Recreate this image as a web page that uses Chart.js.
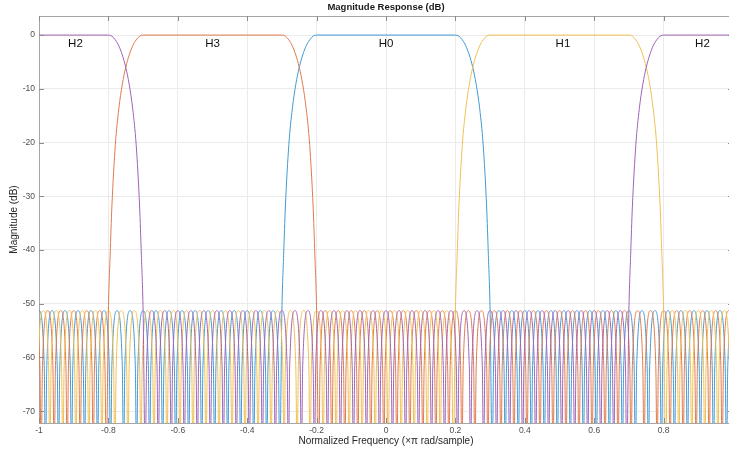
<!DOCTYPE html>
<html>
<head>
<meta charset="utf-8">
<title>Magnitude Response (dB)</title>
<script src="https://cdn.jsdelivr.net/npm/chart.js@4.4.1/dist/chart.umd.min.js"></script>
<style>
  html, body { margin: 0; padding: 0; overflow: hidden; background: #fff; }
  #wrap { width: 729px; height: 451px; overflow: hidden; }
  canvas { display: block; }
</style>
</head>
<body>
<div id="wrap"><canvas id="chart" width="733" height="451"></canvas></div>
<script>
const xTicks = [-1, -0.8, -0.6, -0.4, -0.2, 0, 0.2, 0.4, 0.6, 0.8];
const yTicks = [0, -10, -20, -30, -40, -50, -60, -70];
const bandNames = ['H2', 'H3', 'H0', 'H1', 'H2'];
const bandLabelX = [-0.895, -0.5, 0, 0.51, 0.912];
const bandLabelY = -1.6;

// [normalized frequency, magnitude dB]
const h0Response = [
  [-1.01875, -80], [-1.015, -61.5], [-1.0, -51.3], [-0.985, -61.5],
  [-0.98125, -80], [-0.9775, -61.5], [-0.9625, -51.3], [-0.9475, -61.5],
  [-0.94375, -80], [-0.94, -61.5], [-0.925, -51.3], [-0.91, -61.5],
  [-0.90625, -80], [-0.9025, -61.5], [-0.8875, -51.3], [-0.8725, -61.5],
  [-0.86875, -80], [-0.865, -61.5], [-0.85, -51.3], [-0.835, -61.5],
  [-0.83125, -80], [-0.8275, -61.5], [-0.8125, -51.3], [-0.7975, -61.5],
  [-0.79375, -80], [-0.79, -61.5], [-0.775, -51.3], [-0.76, -61.5],
  [-0.75625, -80], [-0.7525, -61.5], [-0.7375, -51.3], [-0.7225, -61.5],
  [-0.71875, -80], [-0.715, -61.5], [-0.7, -51.3], [-0.685, -61.5],
  [-0.68125, -80], [-0.6775, -61.5], [-0.6625, -51.3], [-0.6475, -61.5],
  [-0.64375, -80], [-0.64, -61.5], [-0.625, -51.3], [-0.61, -61.5],
  [-0.60625, -80], [-0.6025, -61.5], [-0.5875, -51.3], [-0.5725, -61.5],
  [-0.56875, -80], [-0.565, -61.5], [-0.55, -51.3], [-0.535, -61.5],
  [-0.53125, -80], [-0.5275, -61.5], [-0.5125, -51.3], [-0.4975, -61.5],
  [-0.49375, -80], [-0.49, -61.5], [-0.475, -51.3], [-0.46, -61.5],
  [-0.45625, -80], [-0.4525, -61.5], [-0.4375, -51.3], [-0.4225, -61.5],
  [-0.41875, -80], [-0.415, -61.5], [-0.4, -51.3], [-0.385, -61.5],
  [-0.38125, -80], [-0.3775, -61.5], [-0.3625, -51.3], [-0.3475, -61.5],
  [-0.34375, -80], [-0.34, -61.5], [-0.325, -51.3], [-0.31, -61.5],
  [-0.30625, -80],
  [-0.300, -51.3], [-0.295, -41], [-0.290, -32], [-0.280, -20.4], [-0.270, -13.7], [-0.260, -9.2],
  [-0.250, -6.0], [-0.240, -3.7], [-0.230, -2.0], [-0.220, -0.9], [-0.210, -0.2], [-0.200, 0],
  [0.200, 0], [0.210, -0.2], [0.220, -0.9], [0.230, -2.0], [0.240, -3.7], [0.250, -6.0],
  [0.260, -9.2], [0.270, -13.7], [0.280, -20.4], [0.290, -32], [0.295, -41], [0.300, -51.3],
  [0.30625, -80], [0.31, -61.5], [0.325, -51.3], [0.34, -61.5],
  [0.34375, -80], [0.3475, -61.5], [0.3625, -51.3], [0.3775, -61.5],
  [0.38125, -80], [0.385, -61.5], [0.4, -51.3], [0.415, -61.5],
  [0.41875, -80], [0.4225, -61.5], [0.4375, -51.3], [0.4525, -61.5],
  [0.45625, -80], [0.46, -61.5], [0.475, -51.3], [0.49, -61.5],
  [0.49375, -80], [0.4975, -61.5], [0.5125, -51.3], [0.5275, -61.5],
  [0.53125, -80], [0.535, -61.5], [0.55, -51.3], [0.565, -61.5],
  [0.56875, -80], [0.5725, -61.5], [0.5875, -51.3], [0.6025, -61.5],
  [0.60625, -80], [0.61, -61.5], [0.625, -51.3], [0.64, -61.5],
  [0.64375, -80], [0.6475, -61.5], [0.6625, -51.3], [0.6775, -61.5],
  [0.68125, -80], [0.685, -61.5], [0.7, -51.3], [0.715, -61.5],
  [0.71875, -80], [0.7225, -61.5], [0.7375, -51.3], [0.7525, -61.5],
  [0.75625, -80], [0.76, -61.5], [0.775, -51.3], [0.79, -61.5],
  [0.79375, -80], [0.7975, -61.5], [0.8125, -51.3], [0.8275, -61.5],
  [0.83125, -80], [0.835, -61.5], [0.85, -51.3], [0.865, -61.5],
  [0.86875, -80], [0.8725, -61.5], [0.8875, -51.3], [0.9025, -61.5],
  [0.90625, -80], [0.91, -61.5], [0.925, -51.3], [0.94, -61.5],
  [0.94375, -80], [0.9475, -61.5], [0.9625, -51.3], [0.9775, -61.5],
  [0.98125, -80], [0.985, -61.5], [1.0, -51.3], [1.015, -61.5], [1.01875, -80]
];

const h1Response = [
  [-1.00625, -80], [-1.0025, -61.5], [-0.9875, -51.3], [-0.9725, -61.5],
  [-0.96875, -80], [-0.965, -61.5], [-0.95, -51.3], [-0.935, -61.5],
  [-0.93125, -80], [-0.9275, -61.5], [-0.9125, -51.3], [-0.8975, -61.5],
  [-0.89375, -80], [-0.89, -61.5], [-0.875, -51.3], [-0.86, -61.5],
  [-0.85625, -80], [-0.8525, -61.5], [-0.8375, -51.3], [-0.8225, -61.5],
  [-0.81875, -80], [-0.815, -61.5], [-0.8, -51.3], [-0.785, -61.5],
  [-0.78125, -80], [-0.7775, -61.5], [-0.7625, -51.3], [-0.7475, -61.5],
  [-0.74375, -80], [-0.74, -61.5], [-0.725, -51.3], [-0.71, -61.5],
  [-0.70625, -80], [-0.7025, -61.5], [-0.6875, -51.3], [-0.6725, -61.5],
  [-0.66875, -80], [-0.665, -61.5], [-0.65, -51.3], [-0.635, -61.5],
  [-0.63125, -80], [-0.6275, -61.5], [-0.6125, -51.3], [-0.5975, -61.5],
  [-0.59375, -80], [-0.59, -61.5], [-0.575, -51.3], [-0.56, -61.5],
  [-0.55625, -80], [-0.5525, -61.5], [-0.5375, -51.3], [-0.5225, -61.5],
  [-0.51875, -80], [-0.515, -61.5], [-0.5, -51.3], [-0.485, -61.5],
  [-0.48125, -80], [-0.4775, -61.5], [-0.4625, -51.3], [-0.4475, -61.5],
  [-0.44375, -80], [-0.44, -61.5], [-0.425, -51.3], [-0.41, -61.5],
  [-0.40625, -80], [-0.4025, -61.5], [-0.3875, -51.3], [-0.3725, -61.5],
  [-0.36875, -80], [-0.365, -61.5], [-0.35, -51.3], [-0.335, -61.5],
  [-0.33125, -80], [-0.3275, -61.5], [-0.3125, -51.3], [-0.2975, -61.5],
  [-0.29375, -80], [-0.29, -61.5], [-0.275, -51.3], [-0.26, -61.5],
  [-0.25625, -80], [-0.2525, -61.5], [-0.2375, -51.3], [-0.2225, -61.5],
  [-0.21875, -80], [-0.215, -61.5], [-0.2, -51.3], [-0.185, -61.5],
  [-0.18125, -80], [-0.1775, -61.5], [-0.1625, -51.3], [-0.1475, -61.5],
  [-0.14375, -80], [-0.14, -61.5], [-0.125, -51.3], [-0.11, -61.5],
  [-0.10625, -80], [-0.1025, -61.5], [-0.0875, -51.3], [-0.0725, -61.5],
  [-0.06875, -80], [-0.065, -61.5], [-0.05, -51.3], [-0.035, -61.5],
  [-0.03125, -80], [-0.0275, -61.5], [-0.0125, -51.3], [0.0025, -61.5],
  [0.00625, -80], [0.01, -61.5], [0.025, -51.3], [0.04, -61.5],
  [0.04375, -80], [0.0475, -61.5], [0.0625, -51.3], [0.0775, -61.5],
  [0.08125, -80], [0.085, -61.5], [0.1, -51.3], [0.115, -61.5],
  [0.11875, -80], [0.1225, -61.5], [0.1375, -51.3], [0.1525, -61.5],
  [0.15625, -80], [0.16, -61.5], [0.175, -51.3], [0.19, -61.5],
  [0.19375, -80],
  [0.200, -51.3], [0.205, -41], [0.210, -32], [0.220, -20.4], [0.230, -13.7], [0.240, -9.2],
  [0.250, -6.0], [0.260, -3.7], [0.270, -2.0], [0.280, -0.9], [0.290, -0.2], [0.300, 0],
  [0.700, 0], [0.710, -0.2], [0.720, -0.9], [0.730, -2.0], [0.740, -3.7], [0.750, -6.0],
  [0.760, -9.2], [0.770, -13.7], [0.780, -20.4], [0.790, -32], [0.795, -41], [0.800, -51.3],
  [0.80625, -80], [0.81, -61.5], [0.825, -51.3], [0.84, -61.5],
  [0.84375, -80], [0.8475, -61.5], [0.8625, -51.3], [0.8775, -61.5],
  [0.88125, -80], [0.885, -61.5], [0.9, -51.3], [0.915, -61.5],
  [0.91875, -80], [0.9225, -61.5], [0.9375, -51.3], [0.9525, -61.5],
  [0.95625, -80], [0.96, -61.5], [0.975, -51.3], [0.99, -61.5],
  [0.99375, -80], [0.9975, -61.5], [1.0125, -51.3], [1.0275, -61.5], [1.03125, -80]
];

const h2Response = [
  [-1.000, 0], [-0.800, 0], [-0.790, -0.2], [-0.780, -0.9], [-0.770, -2.0], [-0.760, -3.7],
  [-0.750, -6.0], [-0.740, -9.2], [-0.730, -13.7], [-0.720, -20.4], [-0.710, -32], [-0.705, -41],
  [-0.700, -51.3],
  [-0.69375, -80], [-0.69, -61.5], [-0.675, -51.3], [-0.66, -61.5],
  [-0.65625, -80], [-0.6525, -61.5], [-0.6375, -51.3], [-0.6225, -61.5],
  [-0.61875, -80], [-0.615, -61.5], [-0.6, -51.3], [-0.585, -61.5],
  [-0.58125, -80], [-0.5775, -61.5], [-0.5625, -51.3], [-0.5475, -61.5],
  [-0.54375, -80], [-0.54, -61.5], [-0.525, -51.3], [-0.51, -61.5],
  [-0.50625, -80], [-0.5025, -61.5], [-0.4875, -51.3], [-0.4725, -61.5],
  [-0.46875, -80], [-0.465, -61.5], [-0.45, -51.3], [-0.435, -61.5],
  [-0.43125, -80], [-0.4275, -61.5], [-0.4125, -51.3], [-0.3975, -61.5],
  [-0.39375, -80], [-0.39, -61.5], [-0.375, -51.3], [-0.36, -61.5],
  [-0.35625, -80], [-0.3525, -61.5], [-0.3375, -51.3], [-0.3225, -61.5],
  [-0.31875, -80], [-0.315, -61.5], [-0.3, -51.3], [-0.285, -61.5],
  [-0.28125, -80], [-0.2775, -61.5], [-0.2625, -51.3], [-0.2475, -61.5],
  [-0.24375, -80], [-0.24, -61.5], [-0.225, -51.3], [-0.21, -61.5],
  [-0.20625, -80], [-0.2025, -61.5], [-0.1875, -51.3], [-0.1725, -61.5],
  [-0.16875, -80], [-0.165, -61.5], [-0.15, -51.3], [-0.135, -61.5],
  [-0.13125, -80], [-0.1275, -61.5], [-0.1125, -51.3], [-0.0975, -61.5],
  [-0.09375, -80], [-0.09, -61.5], [-0.075, -51.3], [-0.06, -61.5],
  [-0.05625, -80], [-0.0525, -61.5], [-0.0375, -51.3], [-0.0225, -61.5],
  [-0.01875, -80], [-0.015, -61.5], [0.0, -51.3], [0.015, -61.5],
  [0.01875, -80], [0.0225, -61.5], [0.0375, -51.3], [0.0525, -61.5],
  [0.05625, -80], [0.06, -61.5], [0.075, -51.3], [0.09, -61.5],
  [0.09375, -80], [0.0975, -61.5], [0.1125, -51.3], [0.1275, -61.5],
  [0.13125, -80], [0.135, -61.5], [0.15, -51.3], [0.165, -61.5],
  [0.16875, -80], [0.1725, -61.5], [0.1875, -51.3], [0.2025, -61.5],
  [0.20625, -80], [0.21, -61.5], [0.225, -51.3], [0.24, -61.5],
  [0.24375, -80], [0.2475, -61.5], [0.2625, -51.3], [0.2775, -61.5],
  [0.28125, -80], [0.285, -61.5], [0.3, -51.3], [0.315, -61.5],
  [0.31875, -80], [0.3225, -61.5], [0.3375, -51.3], [0.3525, -61.5],
  [0.35625, -80], [0.36, -61.5], [0.375, -51.3], [0.39, -61.5],
  [0.39375, -80], [0.3975, -61.5], [0.4125, -51.3], [0.4275, -61.5],
  [0.43125, -80], [0.435, -61.5], [0.45, -51.3], [0.465, -61.5],
  [0.46875, -80], [0.4725, -61.5], [0.4875, -51.3], [0.5025, -61.5],
  [0.50625, -80], [0.51, -61.5], [0.525, -51.3], [0.54, -61.5],
  [0.54375, -80], [0.5475, -61.5], [0.5625, -51.3], [0.5775, -61.5],
  [0.58125, -80], [0.585, -61.5], [0.6, -51.3], [0.615, -61.5],
  [0.61875, -80], [0.6225, -61.5], [0.6375, -51.3], [0.6525, -61.5],
  [0.65625, -80], [0.66, -61.5], [0.675, -51.3], [0.69, -61.5],
  [0.69375, -80],
  [0.700, -51.3], [0.705, -41], [0.710, -32], [0.720, -20.4], [0.730, -13.7], [0.740, -9.2],
  [0.750, -6.0], [0.760, -3.7], [0.770, -2.0], [0.780, -0.9], [0.790, -0.2], [0.800, 0],
  [1.000, 0]
];

const h3Response = [
  [-1.03125, -80], [-1.0275, -61.5], [-1.0125, -51.3], [-0.9975, -61.5],
  [-0.99375, -80], [-0.99, -61.5], [-0.975, -51.3], [-0.96, -61.5],
  [-0.95625, -80], [-0.9525, -61.5], [-0.9375, -51.3], [-0.9225, -61.5],
  [-0.91875, -80], [-0.915, -61.5], [-0.9, -51.3], [-0.885, -61.5],
  [-0.88125, -80], [-0.8775, -61.5], [-0.8625, -51.3], [-0.8475, -61.5],
  [-0.84375, -80], [-0.84, -61.5], [-0.825, -51.3], [-0.81, -61.5],
  [-0.80625, -80],
  [-0.800, -51.3], [-0.795, -41], [-0.790, -32], [-0.780, -20.4], [-0.770, -13.7], [-0.760, -9.2],
  [-0.750, -6.0], [-0.740, -3.7], [-0.730, -2.0], [-0.720, -0.9], [-0.710, -0.2], [-0.700, 0],
  [-0.300, 0], [-0.290, -0.2], [-0.280, -0.9], [-0.270, -2.0], [-0.260, -3.7], [-0.250, -6.0],
  [-0.240, -9.2], [-0.230, -13.7], [-0.220, -20.4], [-0.210, -32], [-0.205, -41], [-0.200, -51.3],
  [-0.19375, -80], [-0.19, -61.5], [-0.175, -51.3], [-0.16, -61.5],
  [-0.15625, -80], [-0.1525, -61.5], [-0.1375, -51.3], [-0.1225, -61.5],
  [-0.11875, -80], [-0.115, -61.5], [-0.1, -51.3], [-0.085, -61.5],
  [-0.08125, -80], [-0.0775, -61.5], [-0.0625, -51.3], [-0.0475, -61.5],
  [-0.04375, -80], [-0.04, -61.5], [-0.025, -51.3], [-0.01, -61.5],
  [-0.00625, -80], [-0.0025, -61.5], [0.0125, -51.3], [0.0275, -61.5],
  [0.03125, -80], [0.035, -61.5], [0.05, -51.3], [0.065, -61.5],
  [0.06875, -80], [0.0725, -61.5], [0.0875, -51.3], [0.1025, -61.5],
  [0.10625, -80], [0.11, -61.5], [0.125, -51.3], [0.14, -61.5],
  [0.14375, -80], [0.1475, -61.5], [0.1625, -51.3], [0.1775, -61.5],
  [0.18125, -80], [0.185, -61.5], [0.2, -51.3], [0.215, -61.5],
  [0.21875, -80], [0.2225, -61.5], [0.2375, -51.3], [0.2525, -61.5],
  [0.25625, -80], [0.26, -61.5], [0.275, -51.3], [0.29, -61.5],
  [0.29375, -80], [0.2975, -61.5], [0.3125, -51.3], [0.3275, -61.5],
  [0.33125, -80], [0.335, -61.5], [0.35, -51.3], [0.365, -61.5],
  [0.36875, -80], [0.3725, -61.5], [0.3875, -51.3], [0.4025, -61.5],
  [0.40625, -80], [0.41, -61.5], [0.425, -51.3], [0.44, -61.5],
  [0.44375, -80], [0.4475, -61.5], [0.4625, -51.3], [0.4775, -61.5],
  [0.48125, -80], [0.485, -61.5], [0.5, -51.3], [0.515, -61.5],
  [0.51875, -80], [0.5225, -61.5], [0.5375, -51.3], [0.5525, -61.5],
  [0.55625, -80], [0.56, -61.5], [0.575, -51.3], [0.59, -61.5],
  [0.59375, -80], [0.5975, -61.5], [0.6125, -51.3], [0.6275, -61.5],
  [0.63125, -80], [0.635, -61.5], [0.65, -51.3], [0.665, -61.5],
  [0.66875, -80], [0.6725, -61.5], [0.6875, -51.3], [0.7025, -61.5],
  [0.70625, -80], [0.71, -61.5], [0.725, -51.3], [0.74, -61.5],
  [0.74375, -80], [0.7475, -61.5], [0.7625, -51.3], [0.7775, -61.5],
  [0.78125, -80], [0.785, -61.5], [0.8, -51.3], [0.815, -61.5],
  [0.81875, -80], [0.8225, -61.5], [0.8375, -51.3], [0.8525, -61.5],
  [0.85625, -80], [0.86, -61.5], [0.875, -51.3], [0.89, -61.5],
  [0.89375, -80], [0.8975, -61.5], [0.9125, -51.3], [0.9275, -61.5],
  [0.93125, -80], [0.935, -61.5], [0.95, -51.3], [0.965, -61.5],
  [0.96875, -80], [0.9725, -61.5], [0.9875, -51.3], [1.0025, -61.5],
  [1.00625, -80]
];

const font = '"Liberation Sans", Arial, Helvetica, sans-serif';
const toPoints = pairs => pairs.map(([x, y]) => ({ x, y }));

function filterSet(label, pairs, color, order) {
  return {
    label,
    data: toPoints(pairs),
    borderColor: color,
    borderWidth: 1,
    pointRadius: 0,
    fill: false,
    cubicInterpolationMode: 'monotone',
    order
  };
}

// box, inward ticks, band names and the title, drawn like MATLAB does
const decorations = {
  id: 'decorations',
  afterDatasetsDraw(chart) {
    const { ctx, chartArea: a, scales: { x, y } } = chart;
    ctx.save();
    ctx.strokeStyle = '#a6a6a6';
    ctx.lineWidth = 1;
    ctx.beginPath();
    ctx.moveTo(a.left, a.top + 0.5);
    ctx.lineTo(a.right, a.top + 0.5);
    ctx.moveTo(a.right - 0.5, a.top);
    ctx.lineTo(a.right - 0.5, a.bottom);
    ctx.stroke();

    ctx.strokeStyle = '#8c8c8c';
    ctx.beginPath();
    xTicks.forEach(v => {
      const px = Math.round(x.getPixelForValue(v)) + 0.5;
      ctx.moveTo(px, a.top); ctx.lineTo(px, a.top + 5);
      ctx.moveTo(px, a.bottom); ctx.lineTo(px, a.bottom - 5);
    });
    yTicks.forEach(v => {
      const py = Math.round(y.getPixelForValue(v)) + 0.5;
      ctx.moveTo(a.left, py); ctx.lineTo(a.left + 5, py);
      ctx.moveTo(a.right, py); ctx.lineTo(a.right - 5, py);
    });
    ctx.stroke();

    ctx.fillStyle = '#111';
    ctx.font = '11.5px ' + font;
    ctx.textAlign = 'center';
    ctx.textBaseline = 'middle';
    bandNames.forEach((name, i) => {
      ctx.fillText(name, x.getPixelForValue(bandLabelX[i]), y.getPixelForValue(bandLabelY));
    });

    ctx.fillStyle = '#1a1a1a';
    ctx.font = 'bold 9.5px ' + font;
    ctx.fillText('Magnitude Response (dB)', (a.left + a.right) / 2, 7.5);
    ctx.restore();
  }
};

new Chart(document.getElementById('chart'), {
  type: 'line',
  data: {
    datasets: [
      filterSet('H0', h0Response, '#4299d5', 4),
      filterSet('H3', h3Response, '#e07a4c', 3),
      filterSet('H1', h1Response, '#f0c052', 2),
      filterSet('H2', h2Response, '#9e64b5', 1)
    ]
  },
  options: {
    responsive: false,
    animation: false,
    devicePixelRatio: 1,
    layout: { padding: { top: 16, left: 0, right: 0, bottom: 0 } },
    plugins: {
      legend: { display: false },
      tooltip: { enabled: false },
      title: { display: false }
    },
    scales: {
      x: {
        type: 'linear',
        min: -1,
        max: 1,
        afterFit: s => { s.height = 28; },
        afterBuildTicks: s => { s.ticks = xTicks.map(v => ({ value: v })); },
        grid: { color: '#ebebeb', drawTicks: false },
        border: { color: '#a6a6a6' },
        ticks: {
          autoSkip: false,
          maxRotation: 0,
          padding: 3,
          color: '#4d4d4d',
          font: { family: font, size: 8.5 },
          callback: v => String(v)
        },
        title: {
          display: true,
          text: 'Normalized Frequency (×π rad/sample)',
          color: '#262626',
          font: { family: font, size: 10 },
          padding: { top: 0, bottom: 4 }
        }
      },
      y: {
        min: -72.2,
        max: 3.55,
        afterFit: s => { s.width = 39; },
        afterBuildTicks: s => { s.ticks = yTicks.map(v => ({ value: v })); },
        grid: { color: '#ebebeb', drawTicks: false },
        border: { color: '#a6a6a6' },
        ticks: {
          autoSkip: false,
          padding: 4,
          color: '#4d4d4d',
          font: { family: font, size: 8.5 },
          callback: v => String(v)
        },
        title: {
          display: true,
          text: 'Magnitude (dB)',
          color: '#262626',
          font: { family: font, size: 10 },
          padding: { top: 8, bottom: 0 }
        }
      }
    }
  },
  plugins: [decorations]
});
</script>
</body>
</html>
